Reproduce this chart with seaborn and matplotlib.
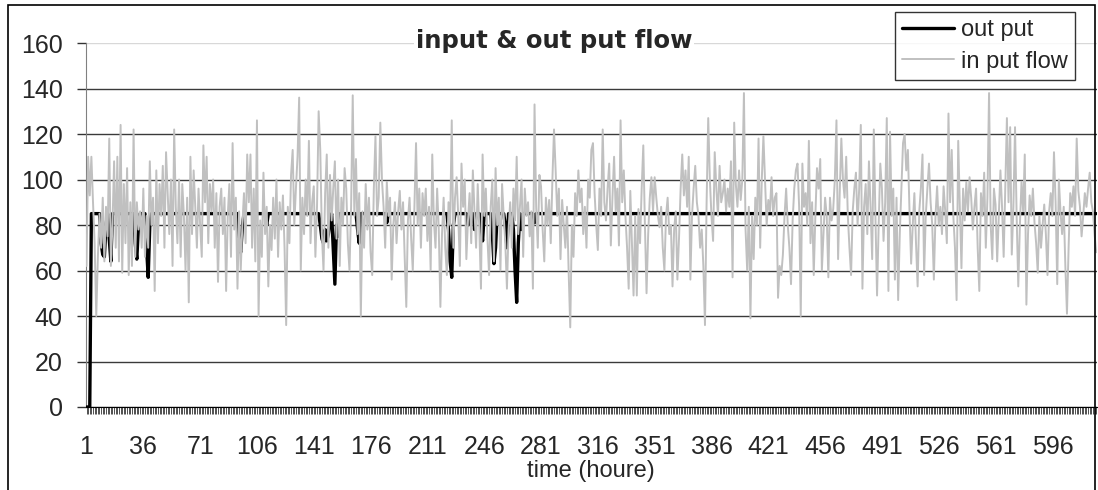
import numpy as np
import pandas as pd
import matplotlib
matplotlib.use('Agg')
import matplotlib.pyplot as plt
import seaborn as sns
from matplotlib.patches import Rectangle

# input flow per hour
input_flow = [
    62, 110, 93, 110, 90, 72, 40, 66, 85, 70, 92, 64, 88, 75, 118, 62, 80, 108, 70, 110,
    64, 124, 59, 98, 72, 105, 58, 90, 62, 122, 66, 90, 78, 86, 70, 96, 66, 84, 70, 108,
    80, 92, 51, 104, 72, 98, 84, 106, 70, 112, 94, 76, 100, 62, 122, 88, 72, 100, 66, 98,
    84, 60, 92, 46, 110, 76, 104, 88, 70, 96, 80, 66, 115, 90, 110, 72, 98, 86, 100, 70,
    94, 55, 88, 96, 76, 92, 51, 84, 98, 66, 116, 78, 92, 52, 86, 60, 80, 94, 72, 111,
    90, 111,
    70, 96, 64, 126, 40, 82, 66, 103, 76, 88, 53, 80, 69, 92, 74, 100, 66, 90, 78, 93,
    70, 36, 88, 72, 102, 113, 80, 96, 110, 136, 60, 92, 76, 100, 84, 117, 72, 90, 97, 66,
    88, 130, 113, 76, 60, 94, 111, 70, 102, 82, 96, 108, 74, 100, 62, 92, 80, 105, 96, 72,
    60, 88, 137, 84, 109, 76, 94, 40, 86, 70, 98, 78, 92, 68, 58, 96, 119, 84, 92, 125,
    100, 88, 70, 99, 84, 92, 56, 80, 90, 72, 86, 95, 78, 90, 66, 44, 82, 92, 74, 60,
    88, 116, 80, 96, 70, 94,
    84, 96, 73, 88, 60, 111, 82, 70, 96, 78, 44, 76, 92, 70, 58, 90, 80, 126, 70, 92,
    101, 84, 62, 107, 88, 100, 65, 82, 94, 72, 104, 86, 70, 98, 78, 52, 111, 84, 96, 74,
    58, 88, 100, 64, 105, 80, 92, 60, 98, 84, 72, 52, 78, 90, 70, 96, 82, 110, 76, 88,
    100, 66, 96, 84, 90, 75, 86, 52, 133, 88, 70, 102, 97, 78, 64, 92, 80, 91, 72, 100,
    122, 104, 84, 96, 65, 91, 80, 70, 88, 60, 35, 80, 66, 94, 84, 104, 90, 96, 76, 88,
    70, 100, 92, 113, 116,
    94, 80, 69, 96, 84, 122, 90, 82, 96, 107, 71, 92, 110, 86, 96, 71, 126, 90, 104, 84,
    70, 52, 95, 72, 49, 84, 49, 87, 72, 96, 115, 80, 50, 76, 92, 101, 86, 101, 92, 84,
    79, 88, 70, 60, 84, 92, 76, 80, 53, 78, 86, 56, 74, 96, 111, 93, 104, 88, 110, 56,
    84, 96, 106, 90, 84, 70, 78, 62, 36, 90, 127, 100, 84, 73, 112, 96, 84, 106, 90, 94,
    100, 86, 96, 88, 108, 57, 125, 98, 88, 104, 91, 100, 138, 78, 60, 88, 39, 84, 65, 92,
    80, 118, 70, 100, 119,
    100, 80, 91, 86, 101, 84, 92, 94, 48, 62, 58, 67, 84, 96, 80, 70, 54, 82, 96, 104,
    107, 88, 40, 107, 88, 94, 80, 117, 72, 90, 58, 84, 105, 96, 109, 60, 76, 92, 84, 57,
    92, 82, 87, 100, 126, 65, 94, 118, 100, 92, 110, 84, 70, 58, 86, 96, 103, 80, 96, 124,
    52, 88, 98, 76, 108, 88, 65, 122, 84, 49, 80, 107, 96, 73, 90, 127, 51, 121, 84, 96,
    56, 92, 47, 76, 96, 116, 120, 104, 113, 86, 63, 80, 94, 72, 53, 86, 96, 111, 58, 84,
    96, 107, 90,
    80, 56, 84, 97, 80, 88, 76, 97, 86, 72, 129, 90, 113, 84, 70, 47, 117, 88, 61, 96,
    82, 99, 86, 101, 92, 78, 88, 96, 70, 51, 94, 84, 103, 70, 92, 138, 80, 65, 96, 89,
    64, 84, 104, 88, 66, 96, 127, 90, 123, 67, 88, 123, 84, 53, 80, 99, 86, 111, 45, 76,
    93, 84, 96, 81, 72, 59, 84, 70, 80, 89, 76, 58, 86, 94, 84, 112, 90, 54, 100, 86,
    76, 88, 62, 41, 70, 94, 88, 97, 84, 118, 95, 88, 75, 84, 94, 88, 96, 103, 90, 86,
    76, 68,
]

# output: 0 for the first hours, then held at 85 with some dips
output_level = 85
output_zero_hours = 3
output_dips = {
    10: 72, 11: 67, 12: 66, 13: 80, 15: 74, 16: 64, 31: 72, 32: 65, 33: 80,
    38: 70, 39: 57, 40: 80, 95: 70, 96: 68, 97: 79, 112: 80,
    145: 80, 146: 74, 147: 72, 148: 78, 149: 73, 150: 76, 151: 82, 153: 70,
    154: 54, 155: 80, 156: 75, 168: 78, 169: 72, 186: 81,
    224: 78, 225: 64, 226: 57, 227: 80, 236: 80, 240: 78, 244: 80, 245: 73,
    251: 76, 252: 63, 253: 70, 259: 80, 260: 70, 264: 78, 265: 60, 266: 46,
    267: 72, 269: 78, 277: 81,
}

n = len(input_flow)
hours = np.arange(1, n + 1)
output_flow = [0] * output_zero_hours + [output_level] * (n - output_zero_hours)
for h, v in output_dips.items():
    output_flow[h - 1] = v

df = pd.DataFrame({'hour': hours, 'out put': output_flow, 'in put flow': input_flow})

sns.set_style('white')
plt.rcParams['font.family'] = ['Liberation Sans', 'DejaVu Sans']

W, H = 1098, 490
fig = plt.figure(figsize=(W / 100, H / 100), dpi=100)
ax = fig.add_axes([85.7 / W, 1 - 407 / H, (1097 - 85.7) / W, (407 - 43) / H])

sns.lineplot(data=df, x='hour', y='out put', color='black', lw=2.4,
             label='out put', ax=ax, zorder=3)
sns.lineplot(data=df, x='hour', y='in put flow', color='#c0c0c0', lw=1.4,
             label='in put flow', ax=ax, zorder=4)

ax.set_xlim(0.5, n + 0.5)
ax.set_ylim(0, 160)
ax.set_yticks(range(0, 161, 20))
ax.set_xticks(hours[::35])
ax.set_xticks(hours, minor=True)

ax.yaxis.grid(True, color='#3a3a3a', lw=1)
ax.get_ygridlines()[-1].set_color('#d8d8d8')
ax.set_axisbelow(True)

for s in ['top', 'right']:
    ax.spines[s].set_visible(False)
ax.spines['left'].set_color('#808080')
ax.spines['bottom'].set_color('black')

ax.tick_params(axis='y', which='major', direction='out', length=6.5, width=1,
               color='#333333', pad=10, labelsize=18, left=True)
ax.tick_params(axis='x', which='both', direction='out', length=5, width=0.6,
               color='#333333', pad=15, labelsize=18, bottom=True)

ax.set_xlabel('time (houre)', fontsize=17, labelpad=1)
ax.set_ylabel('')

leg = ax.legend(loc='upper right', bbox_to_anchor=(1075 / W, 1 - 12 / H),
                bbox_transform=fig.transFigure, frameon=True, fancybox=False,
                edgecolor='black', fontsize=17, handlelength=2.2,
                handletextpad=0.3, borderpad=0.3, labelspacing=0.4,
                borderaxespad=0)
leg.get_frame().set_linewidth(1)
leg.set_zorder(10)

fig.text(554 / W, 1 - 41 / H, 'input & out put flow', family='DejaVu Sans',
         weight='bold', fontsize=17.5, ha='center', va='center',
         bbox=dict(facecolor='white', edgecolor='none', pad=1))

fig.add_artist(Rectangle((8 / W, -0.1), (1095 - 8) / W, 1 - 5 / H + 0.1,
                         transform=fig.transFigure, fill=False,
                         edgecolor='black', lw=1.2))

fig.savefig('out.png', dpi=100)
